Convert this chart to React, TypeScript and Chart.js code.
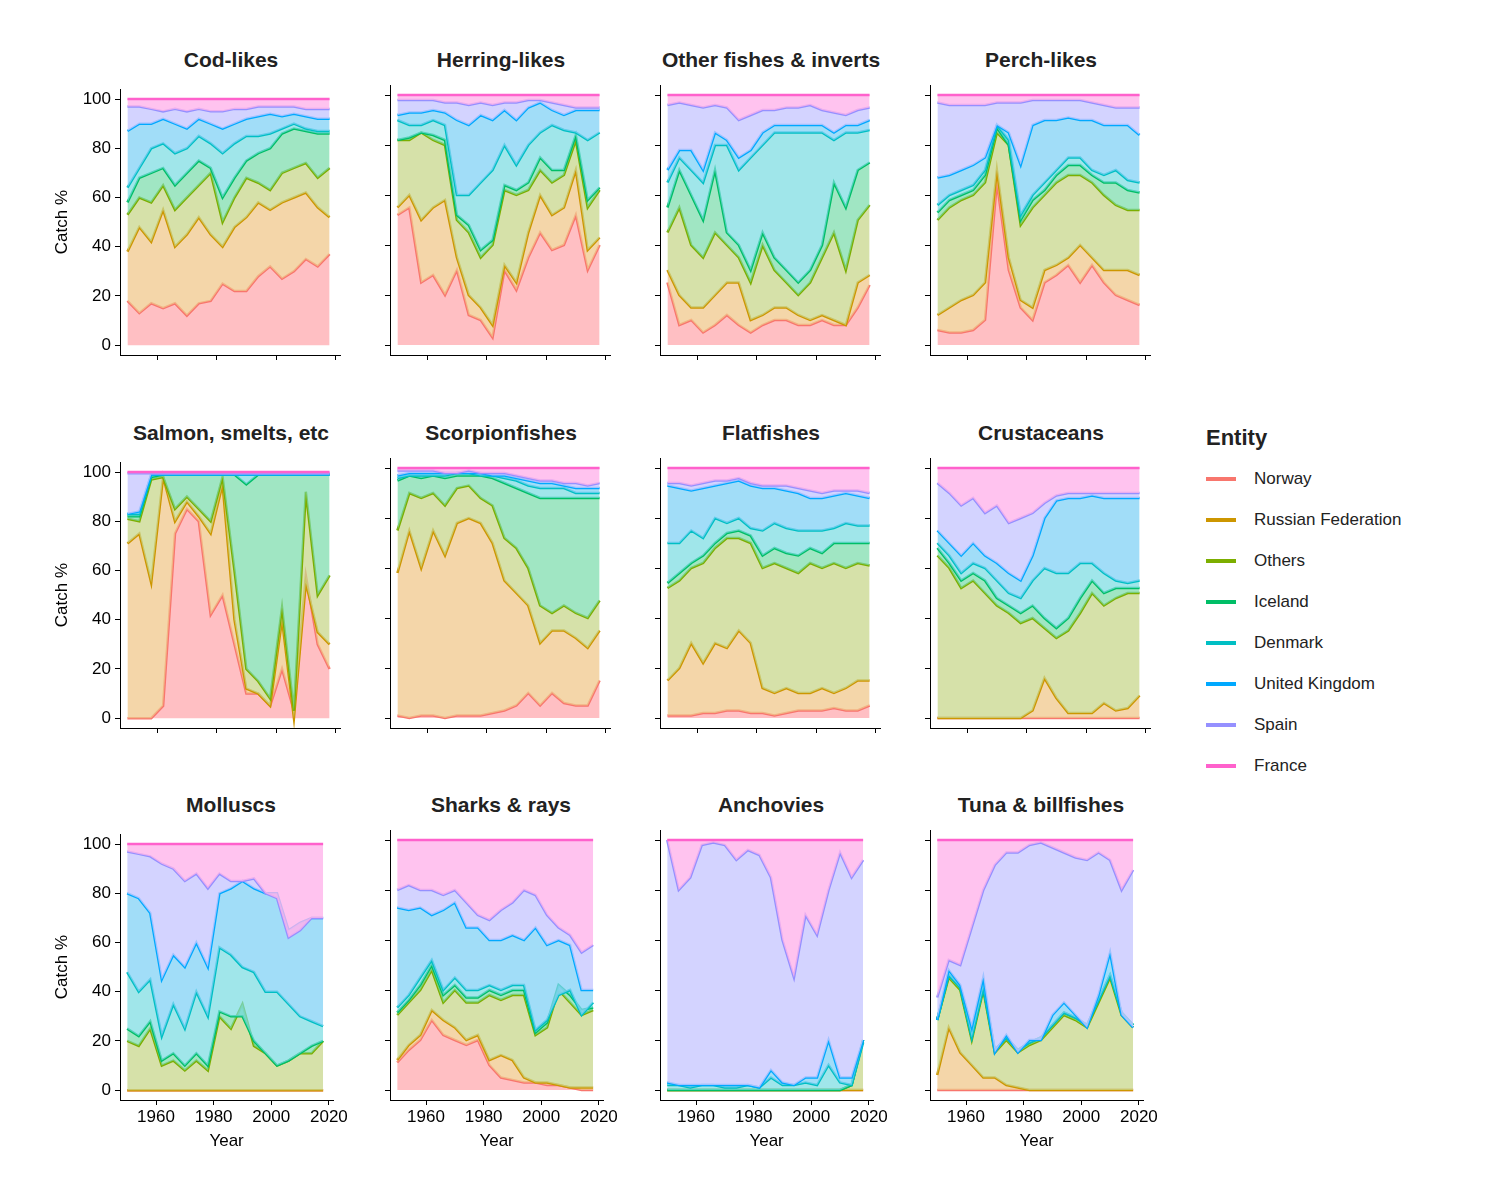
import React, { useEffect, useRef } from "react";
import { Chart, registerables } from "chart.js";
Chart.register(...registerables);

const years = [1950,1954,1958,1962,1966,1970,1974,1978,1982,1986,1990,1994,1998,2002,2006,2010,2014,2018];
const entities = ["Norway","Russian Federation","Others","Iceland","Denmark","United Kingdom","Spain","France"];
const colors = ["#F8766D","#CD9600","#7CAE00","#00BE67","#00BFC4","#00A9FF","#9590FF","#FF61CC"];
const fills = ["rgba(255,170,175,0.75)","rgba(240,200,140,0.75)","rgba(200,215,140,0.75)","rgba(120,220,170,0.7)","rgba(120,220,225,0.7)","rgba(130,210,245,0.75)","rgba(200,200,255,0.8)","rgba(255,180,235,0.8)"];
const F = years.map(() => 100);
const Z = years.map(() => 0);

const codNorway = [18,13,17,15,17,12,17,18,25,22,22,28,32,27,30,35,32,37];
const codRussia = [38,48,42,55,40,45,52,45,40,48,52,58,55,58,60,62,56,52];
const codOthers = [53,60,58,65,55,60,65,70,50,60,68,66,63,70,72,74,68,72];
const codIceland = [58,68,70,72,65,70,75,72,60,68,75,78,80,86,88,87,86,86];
const codDenmark = [64,72,80,82,78,80,85,82,78,82,85,85,86,88,90,88,87,87];
const codUK = [87,90,90,92,90,88,92,90,88,90,92,93,94,93,94,93,92,92];
const codSpain = [97,97,96,95,96,95,96,95,95,96,96,97,97,97,97,96,96,96];

const herNorway = [52,55,25,28,20,30,12,10,3,30,22,35,45,38,40,52,30,40];
const herRussia = [55,60,50,55,58,35,20,15,8,32,25,45,60,52,55,70,38,43];
const herOthers = [82,82,85,82,80,50,45,35,40,62,60,62,70,65,68,82,55,62];
const herIceland = [82,83,85,84,82,52,48,38,42,64,62,65,75,70,70,84,58,63];
const herDenmark = [90,88,88,90,88,60,60,65,70,80,72,80,85,88,86,85,82,85];
const herUK = [92,93,93,94,93,90,88,92,90,94,90,95,97,94,92,94,94,94];
const herSpain = [98,98,98,98,97,97,96,97,96,97,97,98,98,97,96,95,95,95];

const othNorway = [25,8,10,5,8,12,8,5,8,10,10,8,8,10,8,8,15,24];
const othRussia = [30,20,15,15,20,25,25,10,12,15,15,12,10,12,10,8,25,28];
const othOthers = [45,55,40,35,45,40,35,25,40,30,25,20,25,35,45,30,50,56];
const othIceland = [55,70,60,50,70,45,40,30,45,35,30,25,30,40,65,55,70,73];
const othDenmark = [65,75,70,65,80,80,70,75,80,85,85,85,85,85,82,85,85,86];
const othUK = [70,78,78,70,85,82,75,78,85,88,88,88,88,88,85,88,88,90];
const othSpain = [96,97,96,95,96,95,90,92,94,94,95,95,96,94,93,92,94,95];

const perNorway = [6,5,5,6,10,65,30,15,10,25,28,32,25,32,25,20,18,16];
const perRussia = [12,15,18,20,25,70,35,18,15,30,32,35,40,35,30,30,30,28];
const perOthers = [50,55,58,60,65,85,80,48,55,60,65,68,68,65,60,56,54,54];
const perIceland = [53,58,60,62,68,87,80,50,58,62,68,72,72,68,65,65,62,61];
const perDenmark = [56,60,62,64,70,88,82,52,60,65,70,75,75,70,68,70,66,65];
const perUK = [67,68,70,72,75,88,85,72,88,90,90,91,90,90,88,88,88,84];
const perSpain = [97,96,96,96,96,97,97,97,98,98,98,98,98,97,96,95,95,95];

const salNorway = [0,0,0,5,75,85,80,42,50,30,10,10,5,20,3,58,30,20];
const salRussia = [71,75,55,98,80,88,82,75,95,40,12,10,5,40,0,55,35,30];
const salOthers = [81,80,97,98,85,90,85,80,98,60,20,15,8,45,3,92,50,58];
const salIceland = [82,82,98,99,99,99,99,99,99,99,95,99,99,99,99,99,99,99];
const salDenmark = [83,83,99,99,99,99,99,99,99,99,99,99,99,99,99,99,99,99];
const salUK = [83,84,99,99,99,99,99,99,99,99,99,99,99,99,99,99,99,99];
const salSpain = [99.5,99.5,99.5,99.5,99.5,99.5,99.5,99.5,99.5,99.5,99.5,99.5,99.5,99.5,99.5,99.5,99.5,99.5];

const scoNorway = [1,0,1,1,0,1,1,1,2,3,5,10,5,10,6,5,5,15];
const scoRussia = [58,75,60,75,65,78,80,78,70,55,50,45,30,35,35,32,28,35];
const scoOthers = [75,90,88,90,85,92,93,88,85,72,68,60,45,42,45,42,40,47];
const scoIceland = [95,97,96,97,96,97,97,97,96,94,92,90,88,88,88,88,88,88];
const scoDenmark = [96,97,97,97,97,98,98,97,97,96,95,93,92,92,92,90,90,90];
const scoUK = [97,98,98,98,98,98,98,98,97,97,96,95,94,94,93,92,92,92];
const scoSpain = [99,99,99,99,98,98,99,98,98,98,97,96,95,95,94,94,93,94];

const flaNorway = [1,1,1,2,2,3,3,2,2,1,2,3,3,3,4,3,3,5];
const flaRussia = [15,20,30,22,30,28,35,30,12,10,12,10,10,12,10,12,15,15];
const flaOthers = [52,55,60,62,68,72,72,70,60,62,60,58,62,60,62,60,62,61];
const flaIceland = [54,58,62,65,70,74,75,73,65,68,66,65,68,66,70,70,70,70];
const flaDenmark = [70,70,75,72,80,78,80,76,75,78,76,75,75,75,76,78,77,77];
const flaUK = [93,92,91,92,93,94,95,93,92,92,91,90,88,88,89,90,89,88];
const flaSpain = [94,94,93,94,95,95,96,94,93,93,93,92,91,90,91,91,91,90];

const cruRussia = [0,0,0,0,0,0,0,0,3,16,8,2,2,2,6,3,4,9];
const cruOthers = [65,60,52,55,50,45,42,38,40,36,32,35,42,50,45,48,50,50];
const cruIceland = [68,62,55,58,55,48,45,42,45,40,36,40,48,55,50,52,52,52];
const cruDenmark = [70,65,58,62,60,55,50,48,55,60,58,58,62,62,58,55,54,55];
const cruUK = [75,70,65,70,65,62,58,55,65,80,87,88,88,89,88,88,88,88];
const cruSpain = [94,90,85,88,82,85,78,80,82,86,89,90,90,90,90,90,90,90];

const molOthers = [20,18,25,10,12,8,12,8,30,25,35,18,15,10,12,15,15,20];
const molIceland = [25,22,28,12,15,10,15,10,32,30,30,20,15,10,12,15,18,20];
const molDenmark = [48,40,45,22,35,25,40,30,58,55,50,48,40,40,35,30,28,26];
const molUK = [80,78,72,45,55,50,60,50,80,82,85,82,80,80,65,68,70,70];
const molSpain = [97,96,95,92,90,85,88,82,88,85,85,86,80,78,62,65,70,70];

const shaNorway = [11,16,20,28,22,20,18,20,10,5,4,3,3,2,2,1,0,0];
const shaRussia = [12,18,22,32,28,25,20,22,12,14,12,5,3,3,2,1,1,1];
const shaOthers = [30,35,40,48,35,40,35,35,38,36,38,38,22,25,40,35,30,32];
const shaIceland = [31,36,42,50,38,42,37,37,40,38,40,40,23,27,42,38,32,33];
const shaDenmark = [33,38,45,52,40,45,40,40,42,40,42,42,24,28,38,40,30,35];
const shaUK = [73,72,73,70,72,75,65,65,60,60,62,60,65,58,60,58,40,40];
const shaSpain = [80,82,80,80,78,80,75,70,68,72,75,80,78,70,65,62,55,58];

const ancOthers = [0,0,0,0,0,0,0,0,0,0,0,0,0,0,0,0,2,20];
const ancDenmark = [2,2,1,2,2,1,1,2,1,5,2,2,3,2,10,3,2,19];
const ancUK = [3,2,2,2,2,2,2,2,1,8,3,2,5,5,20,5,5,20];
const ancSpain = [100,80,85,98,99,98,92,96,94,85,60,45,70,62,80,95,85,92];

const tunRussia = [6,25,15,10,5,5,2,1,0,0,0,0,0,0,0,0,0,0];
const tunOthers = [28,45,40,20,40,15,20,15,18,20,25,30,28,25,35,45,30,25];
const tunIceland = [28,46,41,21,41,16,21,16,19,21,26,31,29,26,36,46,31,26];
const tunUK = [28,48,42,25,45,15,22,15,20,20,30,35,30,25,38,55,30,25];
const tunSpain = [37,52,50,65,80,90,95,95,98,99,97,95,93,92,95,92,80,88];

const panels: { title: string; series: number[][] }[] = [
  { title: "Cod-likes", series: [codNorway, codRussia, codOthers, codIceland, codDenmark, codUK, codSpain, F] },
  { title: "Herring-likes", series: [herNorway, herRussia, herOthers, herIceland, herDenmark, herUK, herSpain, F] },
  { title: "Other fishes & inverts", series: [othNorway, othRussia, othOthers, othIceland, othDenmark, othUK, othSpain, F] },
  { title: "Perch-likes", series: [perNorway, perRussia, perOthers, perIceland, perDenmark, perUK, perSpain, F] },
  { title: "Salmon, smelts, etc", series: [salNorway, salRussia, salOthers, salIceland, salDenmark, salUK, salSpain, F] },
  { title: "Scorpionfishes", series: [scoNorway, scoRussia, scoOthers, scoIceland, scoDenmark, scoUK, scoSpain, F] },
  { title: "Flatfishes", series: [flaNorway, flaRussia, flaOthers, flaIceland, flaDenmark, flaUK, flaSpain, F] },
  { title: "Crustaceans", series: [Z, cruRussia, cruOthers, cruIceland, cruDenmark, cruUK, cruSpain, F] },
  { title: "Molluscs", series: [Z, Z, molOthers, molIceland, molDenmark, molUK, molSpain, F] },
  { title: "Sharks & rays", series: [shaNorway, shaRussia, shaOthers, shaIceland, shaDenmark, shaUK, shaSpain, F] },
  { title: "Anchovies", series: [Z, Z, ancOthers, ancOthers, ancDenmark, ancUK, ancSpain, F] },
  { title: "Tuna & billfishes", series: [Z, tunRussia, tunOthers, tunIceland, tunIceland, tunUK, tunSpain, F] },
];

const xTicks = [1960, 1980, 2000, 2020];
const yTicks = [0, 20, 40, 60, 80, 100];
const FONT = "'Liberation Sans', Arial, sans-serif";
const YW = 70, XH = 52, PW = 220, PH = 270;

function Panel({ idx }: { idx: number }) {
  const ref = useRef<HTMLCanvasElement>(null);
  const p = panels[idx];
  const col = idx % 4, row = Math.floor(idx / 4);
  const showY = col === 0, showX = row === 2;
  useEffect(() => {
    const chart = new Chart(ref.current!, {
      type: "line",
      data: {
        datasets: p.series.map((s, i) => ({
          label: entities[i],
          data: s.map((v, j) => ({ x: years[j], y: v })),
          borderColor: colors[i],
          backgroundColor: fills[i],
          borderWidth: 2.5,
          pointRadius: 0,
          tension: 0,
          fill: i === 0 ? "origin" : "-1",
          order: 8 - i,
        })),
      },
      options: {
        animation: false,
        responsive: false,
        maintainAspectRatio: false,
        layout: { padding: { top: 10, right: 10, left: 0, bottom: 0 } },
        plugins: { legend: { display: false }, tooltip: { enabled: false } },
        scales: {
          x: {
            type: "linear", min: 1947.5, max: 2021.5,
            afterBuildTicks: (s: any) => { s.ticks = xTicks.map((v) => ({ value: v })); },
            afterFit: (s: any) => { s.height = XH; },
            grid: { drawOnChartArea: false, drawTicks: true, tickLength: 5, color: "#000" },
            border: { color: "#000", width: 1 },
            ticks: { display: showX, color: "#000", font: { family: FONT, size: 17 }, padding: 2, maxRotation: 0, callback: (v: any) => String(v) },
            title: { display: showX, text: "Year", color: "#000", font: { family: FONT, size: 17 }, padding: 0 },
          },
          y: {
            type: "linear", min: -4, max: 104,
            afterBuildTicks: (s: any) => { s.ticks = yTicks.map((v) => ({ value: v })); },
            afterFit: (s: any) => { s.width = YW; },
            grid: { drawOnChartArea: false, drawTicks: true, tickLength: 5, color: "#000" },
            border: { color: "#000", width: 1 },
            ticks: { display: showY, color: "#000", font: { family: FONT, size: 17 }, padding: 4 },
            title: { display: showY, text: "Catch %", color: "#000", font: { family: FONT, size: 17 }, padding: 2 },
          },
        },
      },
    });
    return () => chart.destroy();
  }, []);
  const plotLeft = 112 + col * 270, plotTop = 77 + row * 372.5;
  return (
    <>
      <div style={{ position: "absolute", left: plotLeft - 39, width: PW + 80, top: plotTop - 37, textAlign: "center", fontFamily: FONT, fontWeight: "bold", fontSize: 21, color: "#222" }}>{p.title}</div>
      <div style={{ position: "absolute", left: plotLeft - YW, top: plotTop - 10, width: YW + PW + 10, height: PH + 10 + XH }}>
        <canvas ref={ref} width={YW + PW + 10} height={PH + 10 + XH} style={{ width: YW + PW + 10, height: PH + 10 + XH }} />
      </div>
    </>
  );
}

export default function App() {
  return (
    <div style={{ position: "relative", width: 1500, height: 1200, background: "#fff" }}>
      {panels.map((_, i) => <Panel key={i} idx={i} />)}
      <div style={{ position: "absolute", left: 1198, top: 417, fontFamily: FONT, color: "#222" }}>
        <div style={{ fontWeight: "bold", fontSize: 22, marginBottom: 7 }}>Entity</div>
        {entities.map((e, i) => (
          <div key={e} style={{ display: "flex", alignItems: "center", height: 41, fontSize: 17 }}>
            <span style={{ display: "inline-block", width: 30, height: 4, background: colors[i], marginRight: 18 }} />
            {e}
          </div>
        ))}
      </div>
    </div>
  );
}
